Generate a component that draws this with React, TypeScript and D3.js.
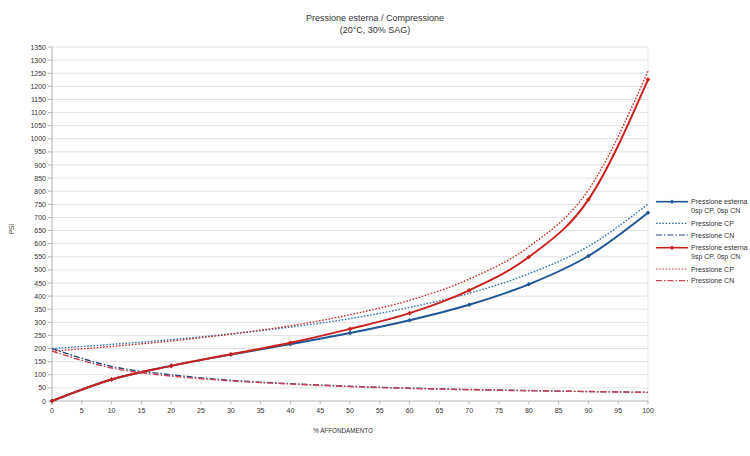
import React from "react";
import * as d3 from "d3";

const pct = [0, 10, 20, 30, 40, 50, 60, 70, 80, 90, 100];
const bluePext = [0, 82, 134, 177, 217, 259, 308, 367, 445, 553, 718];
const blueCP = [200, 216, 234, 256, 282, 314, 357, 411, 485, 590, 751];
const blueCN = [200, 132, 100, 79, 66, 56, 49, 44, 40, 36, 33];
const redPext = [0, 82, 134, 178, 222, 275, 335, 422, 549, 768, 1226];
const redCP = [190, 208, 229, 255, 287, 329, 384, 465, 588, 805, 1258];
const redCN = [190, 126, 95, 77, 65, 55, 48, 43, 39, 36, 33];

const yTicks = d3.range(0, 1351, 50);
const xTicks = d3.range(0, 101, 5);

const W = 750, H = 456;
const M = { left: 52, right: 648, top: 47, bottom: 401 };

const series = [
  { name: ["Pressione esterna", "0sp CP, 0sp CN"], data: bluePext, color: "#1f5695", width: 2, dash: "", marker: true },
  { name: ["Pressione CP"], data: blueCP, color: "#3574b0", width: 1.4, dash: "1.6,1.6", marker: false },
  { name: ["Pressione CN"], data: blueCN, color: "#2a4d7f", width: 1.4, dash: "6,2,1.5,2", marker: false },
  { name: ["Pressione esterna", "9sp CP, 0sp CN"], data: redPext, color: "#c9211e", width: 2, dash: "", marker: true },
  { name: ["Pressione CP"], data: redCP, color: "#c8302c", width: 1.4, dash: "1.6,1.6", marker: false },
  { name: ["Pressione CN"], data: redCN, color: "#d04050", width: 1.4, dash: "6,2,1.5,2", marker: false },
];

const legendRows = [201.7, 223.3, 235, 247.7, 269, 280.7];

export default function App() {
  const x = d3.scaleLinear().domain([0, 100]).range([M.left, M.right]);
  const y = d3.scaleLinear().domain([0, 1350]).range([M.bottom, M.top]);
  const line = d3
    .line<number>()
    .x((_, i) => x(pct[i]))
    .y((d) => y(d))
    .curve(d3.curveMonotoneX);
  const font = "Liberation Sans, Arial, sans-serif";
  return (
    <svg
      width={W}
      height={H}
      style={{ position: "absolute", left: 0, top: 0, background: "#fff" }}
      fontFamily={font}
    >
      <rect x={0} y={0} width={W} height={H} fill="#fff" />
      <text x={375} y={21} textAnchor="middle" fontSize={9} fill="#333">
        Pressione esterna / Compressione
      </text>
      <text x={375} y={32.5} textAnchor="middle" fontSize={9} fill="#333">
        (20°C, 30% SAG)
      </text>
      {yTicks.map((t) => (
        <g key={"y" + t}>
          {t > 0 && (
            <line x1={M.left} x2={M.right} y1={y(t)} y2={y(t)} stroke="#e3e3e3" strokeWidth={1} />
          )}
          <line x1={M.left - 4} x2={M.left} y1={y(t)} y2={y(t)} stroke="#b3b3b3" />
          <text x={M.left - 6} y={y(t) + 2.6} textAnchor="end" fontSize={7} fill="#333">
            {t}
          </text>
        </g>
      ))}
      <line x1={M.right} x2={M.right} y1={M.top} y2={M.bottom} stroke="#e3e3e3" />
      <line x1={M.left} x2={M.left} y1={M.top} y2={M.bottom + 4} stroke="#b3b3b3" />
      <line x1={M.left} x2={M.right} y1={M.bottom} y2={M.bottom} stroke="#b3b3b3" />
      {xTicks.map((t) => (
        <g key={"x" + t}>
          <line x1={x(t)} x2={x(t)} y1={M.bottom} y2={M.bottom + 3} stroke="#b3b3b3" />
          <text x={x(t)} y={413} textAnchor="middle" fontSize={7} fill="#333">
            {t}
          </text>
        </g>
      ))}
      <text x={343} y={433} textAnchor="middle" fontSize={6.3} fill="#333">
        % AFFONDAMENTO
      </text>
      <text
        transform={`translate(14,229) rotate(-90)`}
        textAnchor="middle"
        fontSize={6.3}
        fill="#333"
      >
        PSI
      </text>
      {series.map((s, i) => (
        <g key={"s" + i}>
          <path
            d={line(s.data) || ""}
            fill="none"
            stroke={s.color}
            strokeWidth={s.width}
            strokeDasharray={s.dash}
          />
          {s.marker &&
            s.data.map((v, j) => (
              <path
                key={j}
                d={`M${x(pct[j])},${y(v) - 2.3}l2.3,2.3l-2.3,2.3l-2.3,-2.3z`}
                fill={s.color}
              />
            ))}
        </g>
      ))}
      {series.map((s, i) => {
        const ry = legendRows[i];
        return (
          <g key={"l" + i}>
            <line
              x1={656}
              x2={688}
              y1={ry}
              y2={ry}
              stroke={s.color}
              strokeWidth={s.width > 1.5 ? 1.6 : 1.2}
              strokeDasharray={s.dash}
            />
            {s.marker && (
              <path d={`M672,${ry - 2.2}l2.2,2.2l-2.2,2.2l-2.2,-2.2z`} fill={s.color} />
            )}
            {s.name.map((n, k) => (
              <text key={k} x={691} y={ry + 2.6 + k * 8.4} fontSize={7} fill="#333">
                {n}
              </text>
            ))}
          </g>
        );
      })}
    </svg>
  );
}
